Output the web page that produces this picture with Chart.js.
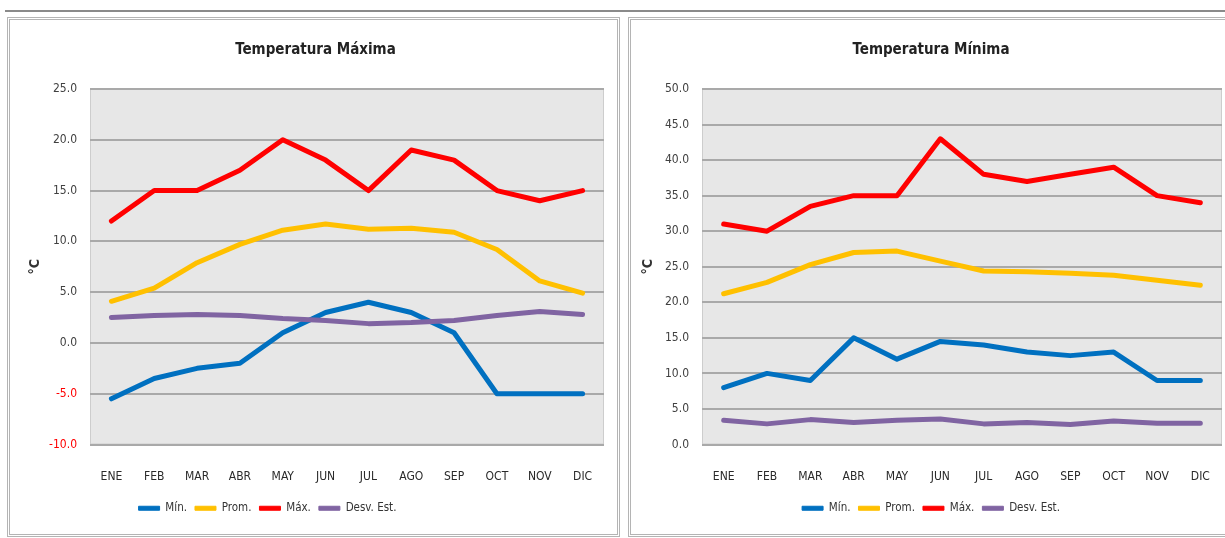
<!DOCTYPE html>
<html>
<head>
<meta charset="utf-8">
<script src="https://cdn.jsdelivr.net/npm/chart.js@4.4.0/dist/chart.umd.min.js"></script>
<style>
    html, body { margin: 0; padding: 0; background: #fff; overflow: hidden; }
    body { width: 1225px; height: 538px; position: relative; }
    .topline { position: absolute; left: 5px; top: 10px; width: 1225px; height: 2px; background: #8a8a8a; }
    .frame { position: absolute; top: 17px; height: 520px; box-sizing: border-box; border: 3px double #b4b4b4; }
    .box { position: absolute; top: 18px; height: 517px; }
</style>
</head>
<body>
<div class="topline"></div>
<div class="frame" style="left:7px; width:613px;"></div>
<div class="frame" style="left:628px; width:620px;"></div>
<div class="box" style="left:8px; width:610px;"><canvas id="chartMax"></canvas></div>
<div class="box" style="left:629px; width:610px;"><canvas id="chartMin"></canvas></div>

<script>
const months = ['ENE', 'FEB', 'MAR', 'ABR', 'MAY', 'JUN', 'JUL', 'AGO', 'SEP', 'OCT', 'NOV', 'DIC'];
const seriesNames = ['Mín.', 'Prom.', 'Máx.', 'Desv. Est.'];
const seriesColors = ['#0070c0', '#ffc000', '#ff0000', '#8064a2'];

// Temperatura Máxima
const maxMin  = [-5.5, -3.5, -2.5, -2.0, 1.0, 3.0, 4.0, 3.0, 1.0, -5.0, -5.0, -5.0];
const maxProm = [4.1, 5.4, 7.9, 9.7, 11.1, 11.7, 11.2, 11.3, 10.9, 9.2, 6.1, 4.9];
const maxMax  = [12, 15, 15, 17, 20, 18, 15, 19, 18, 15, 14, 15];
const maxDesv = [2.5, 2.7, 2.8, 2.7, 2.4, 2.2, 1.9, 2.0, 2.2, 2.7, 3.1, 2.8];

// Temperatura Mínima
const minMin  = [8.0, 10.0, 9.0, 15.0, 12.0, 14.5, 14.0, 13.0, 12.5, 13.0, 9.0, 9.0];
const minProm = [21.2, 22.8, 25.3, 27.0, 27.2, 25.8, 24.4, 24.3, 24.1, 23.8, 23.1, 22.4];
const minMax  = [31, 30, 33.5, 35, 35, 43, 38, 37, 38, 39, 35, 34];
const minDesv = [3.4, 2.9, 3.5, 3.1, 3.4, 3.6, 2.9, 3.1, 2.8, 3.3, 3.0, 3.0];

const FONT = "'Liberation Sans Narrow', 'Arial Narrow', 'DejaVu Sans Condensed', sans-serif";

const plotBackground = {
    id: 'plotBackground',
    beforeDraw(chart) {
        const a = chart.chartArea;
        const ctx = chart.ctx;
        ctx.save();
        ctx.fillStyle = '#e7e7e7';
        ctx.fillRect(a.left, a.top, a.width, a.height);
        ctx.strokeStyle = '#cdcdcd';
        ctx.lineWidth = 1;
        ctx.strokeRect(a.left + 0.5, a.top + 0.5, a.width - 1, a.height - 1);
        ctx.restore();
    }
};

// the left legend sits off-centre in the original
const legendShift = {
    id: 'legendShift',
    afterLayout(chart, args, opts) {
        if (chart.legend && opts.dx) {
            chart.legend.left += opts.dx;
            chart.legend.right += opts.dx;
        }
    }
};

function makeChart(canvasId, title, series, yMin, yMax, pad, yWidth, legendDx) {
    const datasets = series.map((data, i) => ({
        label: seriesNames[i],
        data: data,
        borderColor: seriesColors[i],
        backgroundColor: seriesColors[i],
        borderWidth: 5,
        borderCapStyle: 'round',
        borderJoinStyle: 'round',
        pointRadius: 0,
        tension: 0,
        order: 3 - i
    }));

    return new Chart(document.getElementById(canvasId), {
        type: 'line',
        data: { labels: months, datasets: datasets },
        plugins: [plotBackground, legendShift],
        options: {
            animation: false,
            responsive: true,
            maintainAspectRatio: false,
            layout: { padding: { left: pad.left, right: pad.right, top: 0, bottom: 11 } },
            scales: {
                x: {
                    offset: true,
                    grid: { display: false },
                    border: { display: false },
                    ticks: {
                        padding: 17,
                        color: '#2a2a2a',
                        font: { family: FONT, size: 12 }
                    },
                    afterFit: (scale) => { scale.height = 50; }
                },
                y: {
                    min: yMin,
                    max: yMax,
                    border: { display: false },
                    grid: { color: '#a9a9a9', lineWidth: 2, drawTicks: false },
                    ticks: {
                        stepSize: 5,
                        padding: 13,
                        font: { family: FONT, size: 12 },
                        color: (c) => c.tick.value < 0 ? '#ff0000' : '#404040',
                        callback: (v) => Number(v).toFixed(1)
                    },
                    title: {
                        display: true,
                        text: '°C',
                        color: '#333',
                        padding: 0,
                        font: { family: FONT, size: 14, weight: 'bold' }
                    },
                    afterFit: (scale) => { scale.width = yWidth; }
                }
            },
            plugins: {
                title: {
                    display: true,
                    text: title,
                    color: '#222',
                    font: { family: FONT, size: 15, weight: 'bold' },
                    padding: { top: 23, bottom: 30 }
                },
                legend: {
                    position: 'bottom',
                    labels: {
                        boxWidth: 21,
                        boxHeight: 4,
                        padding: 8,
                        color: '#333',
                        font: { family: FONT, size: 11.5 },
                        useBorderRadius: true,
                        borderRadius: 2,
                        generateLabels: (chart) => chart.data.datasets.map((ds, i) => ({
                            text: ds.label,
                            fillStyle: ds.borderColor,
                            strokeStyle: ds.borderColor,
                            lineWidth: 1,
                            fontColor: '#333',
                            datasetIndex: i
                        }))
                    }
                },
                legendShift: { dx: legendDx },
                tooltip: { enabled: false }
            }
        }
    });
}

makeChart('chartMax', 'Temperatura Máxima', [maxMin, maxProm, maxMax, maxDesv], -10, 25,
    { left: 19, right: 14 }, 63, -48);
makeChart('chartMin', 'Temperatura Mínima', [minMin, minProm, minMax, minDesv], 0, 50,
    { left: 11, right: 17 }, 62, 0);
</script>
</body>
</html>
